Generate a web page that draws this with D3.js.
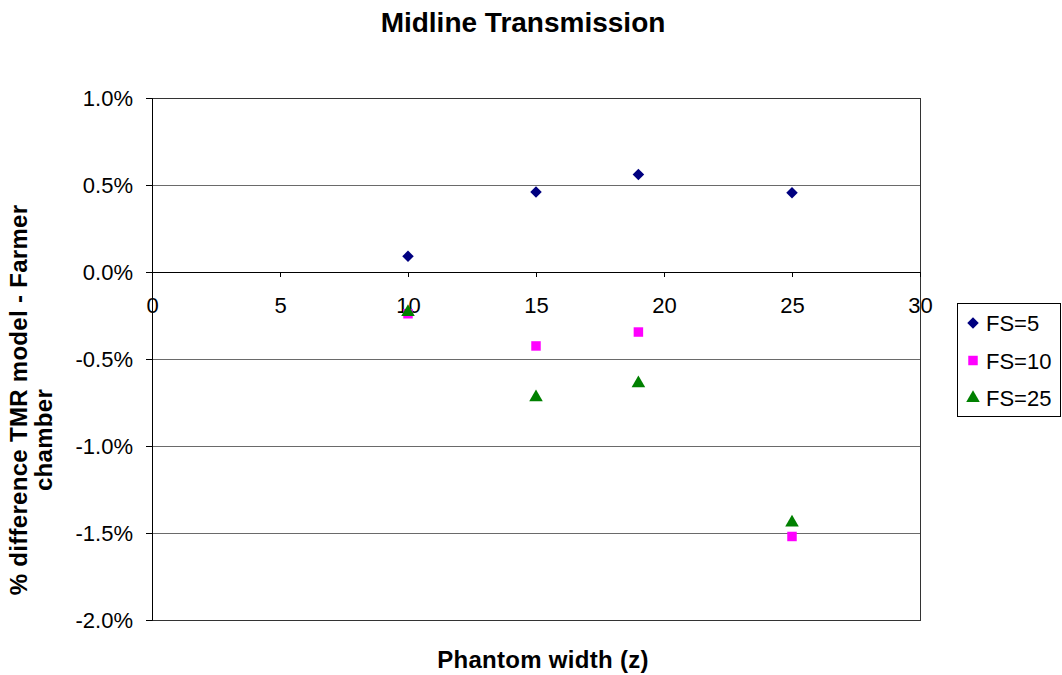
<!DOCTYPE html>
<html lang="en">
<head>
<meta charset="UTF-8">
<title>Midline Transmission</title>
<script src="https://d3js.org/d3.v7.min.js"></script>
<style>
    body { margin: 0; background: #fff; }
    text { font-family: "Liberation Sans", Arial, sans-serif; fill: #000; }
</style>
</head>
<body>
<script>
    // phantom widths (x) and % differences per field size
    var widths = [10, 15, 19, 25];
    var fs5 = [0.0009, 0.0046, 0.0056, 0.00455];
    var fs10 = [-0.0024, -0.00425, -0.00345, -0.0152];
    var fs25 = [-0.0023, -0.0072, -0.0064, -0.0144];
    var seriesNames = ["FS=5", "FS=10", "FS=25"];
    var xTicks = [0, 5, 10, 15, 20, 25, 30];
    var yTicks = [0.01, 0.005, 0, -0.005, -0.01, -0.015, -0.02];

    var W = 1062, H = 675;
    var margin = { top: 98, right: 142, bottom: 55, left: 152 };
    var width = W - margin.left - margin.right,
        height = H - margin.top - margin.bottom;

    var svg = d3.select("body").append("svg")
        .attr("width", W)
        .attr("height", H);

    var g = svg.append("g")
        .attr("transform", "translate(" + margin.left + "," + margin.top + ")");

    var x = d3.scaleLinear().domain([0, 30]).range([0, width]);
    var y = d3.scaleLinear().domain([-0.02, 0.01]).range([height, 0]);

    // gridlines
    g.selectAll(".grid")
        .data(yTicks)
        .enter().append("line")
        .attr("x1", 0).attr("x2", width)
        .attr("y1", d => Math.round(y(d)) + 0.5)
        .attr("y2", d => Math.round(y(d)) + 0.5)
        .attr("stroke", "#6a6a6a")
        .attr("stroke-width", 1);

    // plot border
    g.append("rect")
        .attr("x", 0.5).attr("y", 0.5)
        .attr("width", width).attr("height", height)
        .attr("fill", "none")
        .attr("stroke", "#333");

    // Y axis
    var pct = function (d) { return d3.format(".1%")(d).replace("\u2212", "-"); };
    var yAxis = g.append("g")
        .call(d3.axisLeft(y).tickValues(yTicks).tickSize(6).tickPadding(13)
            .tickFormat(pct));
    yAxis.select(".domain").attr("stroke", "#000");
    yAxis.selectAll(".tick line").attr("stroke", "#000");
    yAxis.selectAll("text").style("font-size", "22px")
        .style("font-family", "'Liberation Sans', Arial, sans-serif");

    // X axis sits on y = 0, labels hang well below it
    var xAxis = g.append("g")
        .attr("transform", "translate(0," + Math.round(y(0)) + ")")
        .call(d3.axisBottom(x).tickValues(xTicks).tickSize(5).tickPadding(20));
    xAxis.select(".domain").attr("stroke", "#000");
    xAxis.selectAll(".tick line").attr("stroke", "#000");
    xAxis.selectAll("text").style("font-size", "22px")
        .style("font-family", "'Liberation Sans', Arial, sans-serif");

    // markers
    var colors = ["#000080", "#FF00FF", "#008000"];
    var symbols = [
        d3.symbol().type(d3.symbolDiamond2).size(85),
        d3.symbol().type(d3.symbolSquare).size(90),
        d3.symbol().type(d3.symbolTriangle).size(80)
    ];
    var allSeries = [fs5, fs10, fs25];

    allSeries.forEach(function (vals, i) {
        g.selectAll(".pt" + i)
            .data(vals)
            .enter().append("path")
            .attr("class", "pt" + i)
            .attr("transform", function (d, j) { return "translate(" + x(widths[j]) + "," + y(d) + ")"; })
            .attr("d", symbols[i])
            .attr("fill", colors[i]);
    });

    // title
    svg.append("text")
        .attr("x", 523).attr("y", 32)
        .attr("text-anchor", "middle")
        .style("font-size", "28px").style("font-weight", "bold")
        .text("Midline Transmission");

    // x axis title
    svg.append("text")
        .attr("x", 543).attr("y", 668)
        .attr("text-anchor", "middle")
        .style("font-size", "24px").style("font-weight", "bold")
        .style("letter-spacing", "0.3px")
        .text("Phantom width (z)");

    // y axis title (two lines)
    var yt = svg.append("text")
        .attr("transform", "translate(0,400) rotate(-90)")
        .attr("text-anchor", "middle")
        .style("font-size", "24px").style("font-weight", "bold")
        .style("letter-spacing", "0.3px");
    yt.append("tspan").attr("x", 0).attr("y", 27).text("% difference TMR model - Farmer");
    yt.append("tspan").attr("x", -40).attr("y", 52).text("chamber");

    // legend
    var lg = svg.append("g").attr("transform", "translate(957,303)");
    lg.append("rect")
        .attr("x", 0.5).attr("y", 0.5)
        .attr("width", 103).attr("height", 113)
        .attr("fill", "#fff").attr("stroke", "#000");
    seriesNames.forEach(function (name, i) {
        var cy = 20 + i * 37.5;
        lg.append("path")
            .attr("transform", "translate(16," + cy + ")")
            .attr("d", symbols[i])
            .attr("fill", colors[i]);
        lg.append("text")
            .attr("x", 29).attr("y", cy + 8)
            .style("font-size", "22px")
            .text(name);
    });
</script>
</body>
</html>
